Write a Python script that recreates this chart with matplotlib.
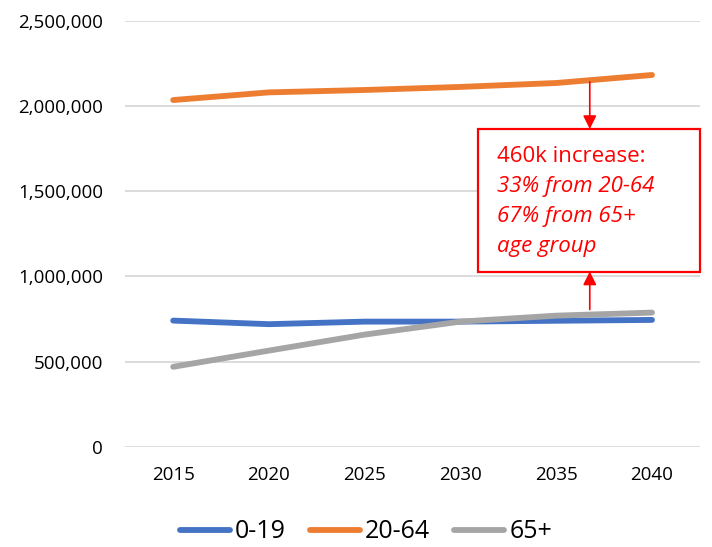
import matplotlib
matplotlib.use("Agg")
import matplotlib.pyplot as plt
from matplotlib.patches import Rectangle
from matplotlib.ticker import FuncFormatter

# ── Data ──
years = ["2015", "2020", "2025", "2030", "2035", "2040"]
age_0_19 = [741000, 720000, 735000, 735000, 740000, 745000]
age_20_64 = [2035000, 2080000, 2094000, 2112000, 2135000, 2182000]
age_65_plus = [470000, 565000, 659000, 735000, 770000, 788000]
series_names = ["0-19", "20-64", "65+"]
series_colors = ["#4472c4", "#ed7d31", "#a5a5a5"]

note_head = "460k increase:"
note_lines = ["33% from 20-64", "67% from 65+", "age group"]

plt.rcParams["font.family"] = ["Open Sans", "DejaVu Sans"]

fig = plt.figure(figsize=(7.12, 5.47), dpi=100)
ax = fig.add_axes([0.176, 0.183, 0.807, 0.779])

x = list(range(len(years)))
for vals, name, col in zip([age_0_19, age_20_64, age_65_plus], series_names, series_colors):
    ax.plot(x, vals, color=col, lw=4.2, solid_capstyle="round", label=name)

ax.set_xlim(-0.5, len(years) - 0.5)
ax.set_ylim(0, 2500000)
ax.set_yticks(range(0, 2500001, 500000))
ax.yaxis.set_major_formatter(FuncFormatter(lambda v, p: f"{int(v):,}"))
ax.set_xticks(x)
ax.set_xticklabels(years)
ax.tick_params(axis="both", length=0, labelsize=13.5, colors="#000000")
ax.tick_params(axis="y", pad=16)
ax.tick_params(axis="x", pad=14)
ax.grid(axis="y", color="#d9d9d9", lw=1.3)
ax.set_axisbelow(True)
for s in ax.spines.values():
    s.set_visible(False)

# annotation box + arrows (between 2035 and 2040)
arrow_x = 4.35
ax.add_patch(Rectangle((3.18, 1029000), 2.32, 836000, transform=ax.transData,
                       fc="white", ec="#ff0000", lw=1.6, zorder=4, clip_on=False))
ax.annotate("", xy=(arrow_x, 1865000), xytext=(arrow_x, 2141000),
            arrowprops=dict(arrowstyle="-|>", color="#ff0000", lw=1.2,
                            mutation_scale=20, shrinkA=0, shrinkB=0), zorder=5)
ax.annotate("", xy=(arrow_x, 1029000), xytext=(arrow_x, 806000),
            arrowprops=dict(arrowstyle="-|>", color="#ff0000", lw=1.2,
                            mutation_scale=20, shrinkA=0, shrinkB=0), zorder=5)

tx = 3.38
ax.text(tx, 1706000, note_head, color="#ff0000", fontsize=16, va="center", zorder=6)
for i, line in enumerate(note_lines):
    ax.text(tx, 1706000 - (i + 1) * 176000, line, color="#ff0000", fontsize=16,
            style="italic", va="center", zorder=6)

fig.legend(loc="center", bbox_to_anchor=(366 / 712, 1 - 532 / 547), ncol=3, frameon=False,
           fontsize=18, handlelength=2.0, columnspacing=0.96, handletextpad=0.2,
           borderaxespad=0, borderpad=0)

fig.savefig("out.png", dpi=100)
